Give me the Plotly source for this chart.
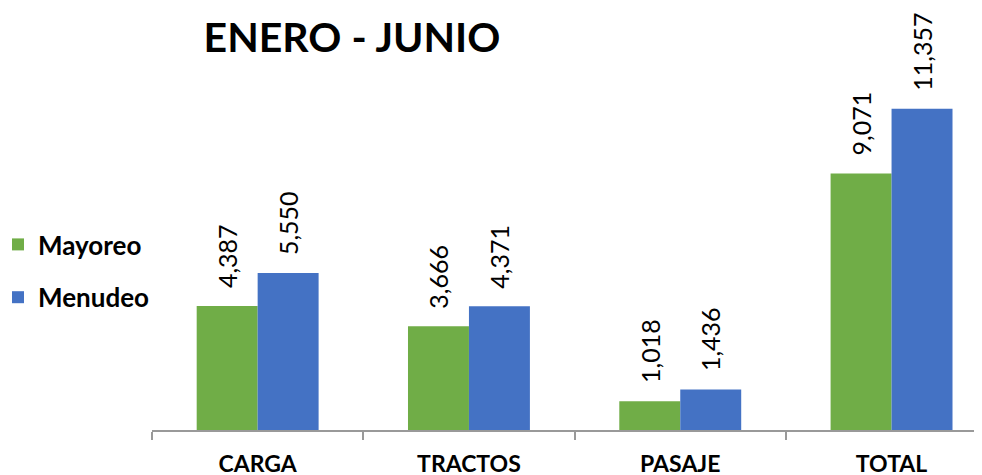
import plotly.graph_objects as go

categories = ["CARGA", "TRACTOS", "PASAJE", "TOTAL"]
mayoreo = [4387, 3666, 1018, 9071]
menudeo = [5550, 4371, 1436, 11357]
series_names = ["Mayoreo", "Menudeo"]
title_text = "ENERO - JUNIO"

GREEN = "#70ad47"
BLUE = "#4472c4"
BARGAP = 0.423
FONT = "Lato"
# the page body has an 8px default margin; compensate in layout
OFF = 8

fig = go.Figure()
fig.add_trace(go.Bar(x=categories, y=mayoreo, name=series_names[0],
                     marker=dict(color=GREEN, line=dict(width=0)), legendgroup="a"))
fig.add_trace(go.Bar(x=categories, y=menudeo, name=series_names[1],
                     marker=dict(color=BLUE, line=dict(width=0)), legendgroup="b"))

off = (1 - BARGAP) / 4
annotations = []
for i, (a, b) in enumerate(zip(mayoreo, menudeo)):
    for xv, val in ((i - off, a), (i + off, b)):
        annotations.append(dict(x=xv, y=val, xref="x", yref="y", text=f"{val:,}",
                                showarrow=False, textangle=-90, yanchor="bottom",
                                xanchor="center", yshift=16,
                                font=dict(family=FONT, size=25, color="#000000")))

L = 152 - OFF
T = 20 - OFF
B = 475 - (430 - OFF)
PW = 982 - L
fig.update_layout(
    width=982, height=475,
    margin=dict(l=L, r=0, t=T, b=B, autoexpand=False),
    paper_bgcolor="white", plot_bgcolor="white",
    barmode="group", bargap=BARGAP, bargroupgap=0,
    title=dict(text=f"<b>{title_text}</b>", xref="container", yref="container",
               x=(352 - OFF) / 982, y=1 - (38 - OFF) / 475, xanchor="center", yanchor="middle",
               font=dict(family=FONT, size=41, color="#000000")),
    legend=dict(xref="paper", yref="container", x=(-10 - L) / PW, y=1 - (271 - OFF) / 475,
                xanchor="left", yanchor="middle", traceorder="grouped",
                tracegroupgap=16, font=dict(family=FONT, size=26, color="#000000", weight="bold"),
                bgcolor="rgba(0,0,0,0)"),
    annotations=annotations,
    xaxis=dict(type="category", range=[-0.5, -0.5 + PW / 211.3],
               showline=True, linecolor="#999999", linewidth=2,
               ticks="outside", ticklen=8, tickwidth=2, tickcolor="#999999",
               tickson="boundaries", ticklabelstandoff=12, showgrid=False, zeroline=False,
               automargin=False,
               tickfont=dict(family=FONT, size=23, color="#000000", weight="bold")),
    yaxis=dict(range=[0, 410 / 0.02829], visible=False, showgrid=False, zeroline=False),
)

fig.write_html("out.html")
